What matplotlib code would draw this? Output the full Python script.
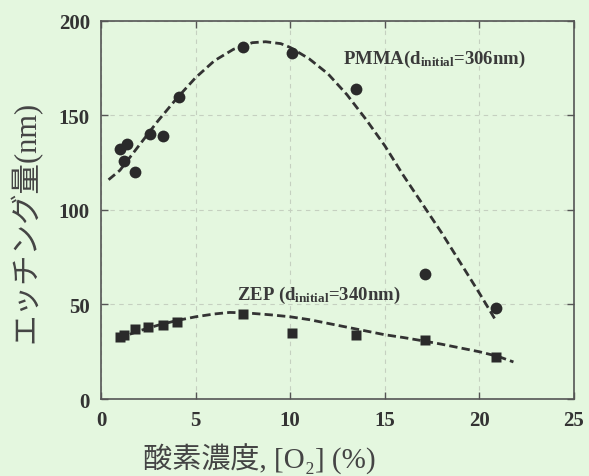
import numpy as np
import matplotlib.pyplot as plt

plt.rcParams['mathtext.fontset'] = 'custom'
plt.rcParams['mathtext.rm'] = 'Liberation Serif:bold'
plt.rcParams['mathtext.it'] = 'Liberation Serif:bold'
plt.rcParams['mathtext.bf'] = 'Liberation Serif:bold'

## measured points
pmma_x = [1.0, 1.2, 1.4, 1.8, 2.6, 3.3, 4.1, 7.5, 10.1, 13.5, 17.1, 20.9]
pmma_y = [132, 126, 135, 120, 140, 139, 160, 186, 183, 164, 66, 48]

zep_x = [1.0, 1.2, 1.8, 2.5, 3.3, 4.0, 7.5, 10.1, 13.5, 17.1, 20.9]
zep_y = [33, 34, 37, 38, 39, 41, 45, 35, 34, 31, 22]

## fitted curves
pmma_fit_x = [0.4, 1, 2, 3, 4, 5, 6, 7, 8, 8.7, 9.5, 10, 11, 12, 13, 14, 15, 16, 17, 18, 19, 20, 20.9]
pmma_fit_y = [116, 121, 134, 147, 159, 170, 179, 185, 188.5, 189, 188, 186, 180, 172, 161, 148, 134, 118, 103, 88, 72, 56, 41]

zep_fit_x = [0.9, 2, 3, 4, 5, 6, 6.8, 7.5, 8, 9, 10, 11, 12, 13, 14, 15, 16, 17, 18, 19, 20, 21, 21.8]
zep_fit_y = [32, 36, 39, 41.5, 43.5, 45, 45.8, 45.6, 45.3, 44.5, 43.5, 42, 40, 38, 36, 34, 32.5, 30.8, 29, 27, 25, 22.5, 19.6]

fams = ['Liberation Serif', 'Noto Sans CJK JP', 'DejaVu Serif']

fig = plt.figure(figsize=(5.89, 4.77), dpi=100)
fig.patch.set_facecolor('#e4f7df')
ax = fig.add_axes([0.1715, 0.1614, 0.803, 0.7926])
ax.set_facecolor('#e4f7df')

ax.plot(pmma_fit_x, pmma_fit_y, c='#333333', lw=2, ls=(0, (3, 1.5)))
ax.plot(zep_fit_x, zep_fit_y, c='#333333', lw=2, ls=(0, (3, 1.5)))
ax.plot(pmma_x, pmma_y, 'o', c='#2a2a2a', ms=8.5, mec='none')
ax.plot(zep_x, zep_y, 's', c='#2a2a2a', ms=7.5, mec='none')

ax.set_xlim(0, 25)
ax.set_ylim(0, 200)
ax.set_xticks(np.arange(0, 26, 5))
ax.set_yticks(np.arange(0, 201, 50))
ax.grid(c='#c5d0c0', lw=0.8, ls=(0, (4, 4)))
ax.tick_params(direction='in', top=True, right=True, length=5, width=1,
               color='#555555', labelcolor='#333333', pad=8)
for lab in ax.get_xticklabels() + ax.get_yticklabels():
    lab.set_family('Liberation Serif')
    lab.set_fontweight('bold')
    lab.set_fontsize(15)
for s in ax.spines.values():
    s.set_color('#555555')
    s.set_linewidth(1.2)

ax.text(12.8, 180, 'PMMA(d$_{\\mathrm{initial}}$=306nm)', fontsize=13.5, color='#3a3a3a',
        family='Liberation Serif', fontweight='bold', va='center')
ax.text(7.2, 55.5, 'ZEP (d$_{\\mathrm{initial}}$=340nm)', fontsize=13.5, color='#3a3a3a',
        family='Liberation Serif', fontweight='bold', va='center')

ax.set_ylabel('エッチング量(nm)', family=fams, fontsize=22, color='#444444')
ax.set_xlabel('酸素濃度, [O\u2082] (%)', family=fams, fontsize=21, color='#444444')
ax.yaxis.set_label_coords(-0.125, 0.47)
ax.xaxis.set_label_coords(0.335, -0.115)

plt.savefig('out.png', dpi=100, facecolor=fig.get_facecolor())
